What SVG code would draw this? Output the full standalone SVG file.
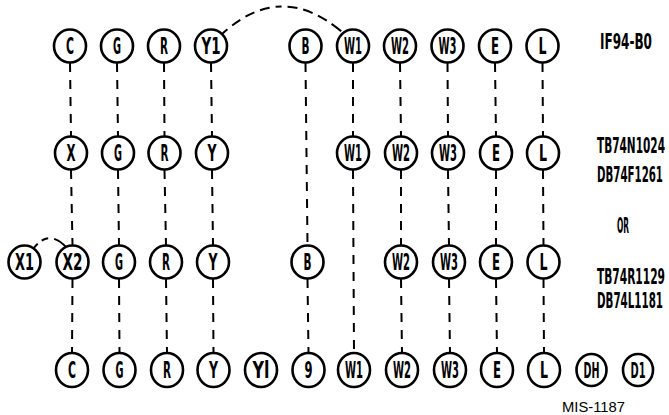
<svg xmlns="http://www.w3.org/2000/svg" width="669" height="415" viewBox="0 0 669 415">
<style>
.n ellipse{fill:#fff;stroke:#000;stroke-width:2.6}
.n text{font-family:"Liberation Sans Narrow","DejaVu Sans Condensed","Liberation Sans",sans-serif;font-weight:bold;font-size:23px;text-anchor:middle;fill:#000}
.lbl{font-family:"Liberation Sans Narrow","DejaVu Sans Condensed","Liberation Sans",sans-serif;font-weight:bold;font-size:21px;fill:#000}
.c line,.c path{stroke:#000;stroke-width:2;fill:none;stroke-dasharray:9 8}
</style>
<rect width="669" height="415" fill="#fff"/>
<g class="c" id="connectors">
<line x1="70" y1="63" x2="71" y2="136"/>
<line x1="71" y1="170" x2="72.5" y2="245"/>
<line x1="72.5" y1="279" x2="72" y2="353"/>
<line x1="117" y1="63" x2="118" y2="136"/>
<line x1="118" y1="170" x2="119" y2="245"/>
<line x1="119" y1="279" x2="119.5" y2="353"/>
<line x1="164" y1="63" x2="164.5" y2="136"/>
<line x1="164.5" y1="170" x2="166" y2="245"/>
<line x1="166" y1="279" x2="167" y2="353"/>
<line x1="211" y1="63" x2="212" y2="136"/>
<line x1="212" y1="170" x2="213" y2="245"/>
<line x1="213" y1="279" x2="213.5" y2="353"/>
<line x1="305.5" y1="63" x2="307.5" y2="245"/>
<line x1="307.5" y1="279" x2="308.5" y2="353"/>
<line x1="353" y1="63" x2="353" y2="136"/>
<line x1="353" y1="170" x2="354" y2="353"/>
<line x1="400" y1="63" x2="401" y2="136"/>
<line x1="401" y1="170" x2="401" y2="245"/>
<line x1="401" y1="279" x2="402" y2="353"/>
<line x1="447.5" y1="63" x2="448" y2="136"/>
<line x1="448" y1="170" x2="449" y2="245"/>
<line x1="449" y1="279" x2="450" y2="353"/>
<line x1="495" y1="63" x2="496" y2="136"/>
<line x1="496" y1="170" x2="496" y2="245"/>
<line x1="496" y1="279" x2="497" y2="353"/>
<line x1="542.5" y1="63" x2="543" y2="136"/>
<line x1="543" y1="170" x2="543.5" y2="245"/>
<line x1="543.5" y1="279" x2="544" y2="353"/>
<path d="M222,34 Q281,-20 342,32" style="stroke-dasharray:7 6 10 6 10 6 10 6 6 6 10 6 10 6 10 6 12"/>
<path d="M33,249 Q49,228 67,248" style="stroke-dasharray:7 5 7 6 30"/>
</g>
<g class="n" id="r1-C"><ellipse cx="70" cy="46" rx="16" ry="16.5"/><text x="70" y="54" textLength="8" lengthAdjust="spacingAndGlyphs">C</text></g>
<g class="n" id="r1-G"><ellipse cx="117" cy="46" rx="16" ry="16.5"/><text x="117" y="54" textLength="8" lengthAdjust="spacingAndGlyphs">G</text></g>
<g class="n" id="r1-R"><ellipse cx="164" cy="46" rx="16" ry="16.5"/><text x="164" y="54" textLength="8" lengthAdjust="spacingAndGlyphs">R</text></g>
<g class="n" id="r1-Y1"><ellipse cx="211" cy="46" rx="16" ry="16.5"/><text x="211" y="54" textLength="19" lengthAdjust="spacingAndGlyphs">Y1</text></g>
<g class="n" id="r1-B"><ellipse cx="305.5" cy="46" rx="16" ry="16.5"/><text x="305.5" y="54" textLength="8" lengthAdjust="spacingAndGlyphs">B</text></g>
<g class="n" id="r1-W1"><ellipse cx="353" cy="46" rx="16" ry="16.5"/><text x="353" y="54" textLength="18" lengthAdjust="spacingAndGlyphs">W1</text></g>
<g class="n" id="r1-W2"><ellipse cx="400" cy="46" rx="16" ry="16.5"/><text x="400" y="54" textLength="18" lengthAdjust="spacingAndGlyphs">W2</text></g>
<g class="n" id="r1-W3"><ellipse cx="447.5" cy="46" rx="16" ry="16.5"/><text x="447.5" y="54" textLength="18" lengthAdjust="spacingAndGlyphs">W3</text></g>
<g class="n" id="r1-E"><ellipse cx="495" cy="46" rx="16" ry="16.5"/><text x="495" y="54" textLength="8" lengthAdjust="spacingAndGlyphs">E</text></g>
<g class="n" id="r1-L"><ellipse cx="542.5" cy="46" rx="16" ry="16.5"/><text x="542.5" y="54" textLength="8" lengthAdjust="spacingAndGlyphs">L</text></g>

<g class="n" id="r2-X"><ellipse cx="71" cy="153" rx="16" ry="16.5"/><text x="71" y="161" textLength="9" lengthAdjust="spacingAndGlyphs">X</text></g>
<g class="n" id="r2-G"><ellipse cx="118" cy="153" rx="16" ry="16.5"/><text x="118" y="161" textLength="8" lengthAdjust="spacingAndGlyphs">G</text></g>
<g class="n" id="r2-R"><ellipse cx="164.5" cy="153" rx="16" ry="16.5"/><text x="164.5" y="161" textLength="8" lengthAdjust="spacingAndGlyphs">R</text></g>
<g class="n" id="r2-Y"><ellipse cx="212" cy="153" rx="16" ry="16.5"/><text x="212" y="161" textLength="9" lengthAdjust="spacingAndGlyphs">Y</text></g>
<g class="n" id="r2-W1"><ellipse cx="353" cy="153" rx="16" ry="16.5"/><text x="353" y="161" textLength="18" lengthAdjust="spacingAndGlyphs">W1</text></g>
<g class="n" id="r2-W2"><ellipse cx="401" cy="153" rx="16" ry="16.5"/><text x="401" y="161" textLength="18" lengthAdjust="spacingAndGlyphs">W2</text></g>
<g class="n" id="r2-W3"><ellipse cx="448" cy="153" rx="16" ry="16.5"/><text x="448" y="161" textLength="18" lengthAdjust="spacingAndGlyphs">W3</text></g>
<g class="n" id="r2-E"><ellipse cx="496" cy="153" rx="16" ry="16.5"/><text x="496" y="161" textLength="8" lengthAdjust="spacingAndGlyphs">E</text></g>
<g class="n" id="r2-L"><ellipse cx="543" cy="153" rx="16" ry="16.5"/><text x="543" y="161" textLength="8" lengthAdjust="spacingAndGlyphs">L</text></g>

<g class="n" id="r3-X1"><ellipse cx="24.5" cy="262" rx="16" ry="16.5"/><text x="24.5" y="270" textLength="19" lengthAdjust="spacingAndGlyphs">X1</text></g>
<g class="n" id="r3-X2"><ellipse cx="72.5" cy="262" rx="16" ry="16.5"/><text x="72.5" y="270" textLength="20" lengthAdjust="spacingAndGlyphs">X2</text></g>
<g class="n" id="r3-G"><ellipse cx="119" cy="262" rx="16" ry="16.5"/><text x="119" y="270" textLength="8" lengthAdjust="spacingAndGlyphs">G</text></g>
<g class="n" id="r3-R"><ellipse cx="166" cy="262" rx="16" ry="16.5"/><text x="166" y="270" textLength="8" lengthAdjust="spacingAndGlyphs">R</text></g>
<g class="n" id="r3-Y"><ellipse cx="213" cy="262" rx="16" ry="16.5"/><text x="213" y="270" textLength="9" lengthAdjust="spacingAndGlyphs">Y</text></g>
<g class="n" id="r3-B"><ellipse cx="307.5" cy="262" rx="16" ry="16.5"/><text x="307.5" y="270" textLength="8" lengthAdjust="spacingAndGlyphs">B</text></g>
<g class="n" id="r3-W2"><ellipse cx="401" cy="262" rx="16" ry="16.5"/><text x="401" y="270" textLength="18" lengthAdjust="spacingAndGlyphs">W2</text></g>
<g class="n" id="r3-W3"><ellipse cx="449" cy="262" rx="16" ry="16.5"/><text x="449" y="270" textLength="18" lengthAdjust="spacingAndGlyphs">W3</text></g>
<g class="n" id="r3-E"><ellipse cx="496" cy="262" rx="16" ry="16.5"/><text x="496" y="270" textLength="8" lengthAdjust="spacingAndGlyphs">E</text></g>
<g class="n" id="r3-L"><ellipse cx="543.5" cy="262" rx="16" ry="16.5"/><text x="543.5" y="270" textLength="8" lengthAdjust="spacingAndGlyphs">L</text></g>

<g class="n" id="r4-C"><ellipse cx="72" cy="370" rx="16" ry="17"/><text x="72" y="378" textLength="8" lengthAdjust="spacingAndGlyphs">C</text></g>
<g class="n" id="r4-G"><ellipse cx="119.5" cy="370" rx="16" ry="17"/><text x="119.5" y="378" textLength="8" lengthAdjust="spacingAndGlyphs">G</text></g>
<g class="n" id="r4-R"><ellipse cx="167" cy="370" rx="16" ry="17"/><text x="167" y="378" textLength="8" lengthAdjust="spacingAndGlyphs">R</text></g>
<g class="n" id="r4-Y"><ellipse cx="213.5" cy="370" rx="16" ry="17"/><text x="213.5" y="378" textLength="9" lengthAdjust="spacingAndGlyphs">Y</text></g>
<g class="n" id="r4-Y1"><ellipse cx="261" cy="370" rx="16" ry="17"/><text x="261" y="378" textLength="17" lengthAdjust="spacingAndGlyphs">Yl</text></g>
<g class="n" id="r4-9"><ellipse cx="308.5" cy="370" rx="16" ry="17"/><text x="308.5" y="378" textLength="8" lengthAdjust="spacingAndGlyphs">9</text></g>
<g class="n" id="r4-W1"><ellipse cx="354" cy="370" rx="16" ry="17"/><text x="354" y="378" textLength="18" lengthAdjust="spacingAndGlyphs">W1</text></g>
<g class="n" id="r4-W2"><ellipse cx="402" cy="370" rx="16" ry="17"/><text x="402" y="378" textLength="18" lengthAdjust="spacingAndGlyphs">W2</text></g>
<g class="n" id="r4-W3"><ellipse cx="450" cy="370" rx="16" ry="17"/><text x="450" y="378" textLength="18" lengthAdjust="spacingAndGlyphs">W3</text></g>
<g class="n" id="r4-E"><ellipse cx="497" cy="370" rx="16" ry="17"/><text x="497" y="378" textLength="8" lengthAdjust="spacingAndGlyphs">E</text></g>
<g class="n" id="r4-L"><ellipse cx="544" cy="370" rx="16" ry="17"/><text x="544" y="378" textLength="8" lengthAdjust="spacingAndGlyphs">L</text></g>
<g class="n" id="r4-DH"><ellipse cx="591.5" cy="370" rx="15" ry="16"/><text x="591.5" y="377.5" textLength="16" lengthAdjust="spacingAndGlyphs" style="font-size:21px">DH</text></g>
<g class="n" id="r4-D1"><ellipse cx="638" cy="370" rx="15" ry="16"/><text x="638" y="377.5" textLength="15" lengthAdjust="spacingAndGlyphs" style="font-size:21px">D1</text></g>

<text class="lbl" transform="translate(600,49) scale(0.5,1)" textLength="104" lengthAdjust="spacingAndGlyphs">IF94-B0</text>
<text class="lbl" transform="translate(597,153) scale(0.5,1)" textLength="136" lengthAdjust="spacingAndGlyphs">TB74N1024</text>
<text class="lbl" transform="translate(597,182) scale(0.5,1)" textLength="132" lengthAdjust="spacingAndGlyphs">DB74F1261</text>
<text class="lbl" transform="translate(617,233) scale(0.5,1)" textLength="24" lengthAdjust="spacingAndGlyphs">OR</text>
<text class="lbl" transform="translate(597,284) scale(0.5,1)" textLength="136" lengthAdjust="spacingAndGlyphs">TB74R1129</text>
<text class="lbl" transform="translate(597,308) scale(0.5,1)" textLength="132" lengthAdjust="spacingAndGlyphs">DB74L1181</text>
<text x="562" y="412" style="font-family:'Liberation Sans',Arial,sans-serif;font-size:15.5px;fill:#000" textLength="63" lengthAdjust="spacingAndGlyphs">MIS-1187</text>
</svg>
